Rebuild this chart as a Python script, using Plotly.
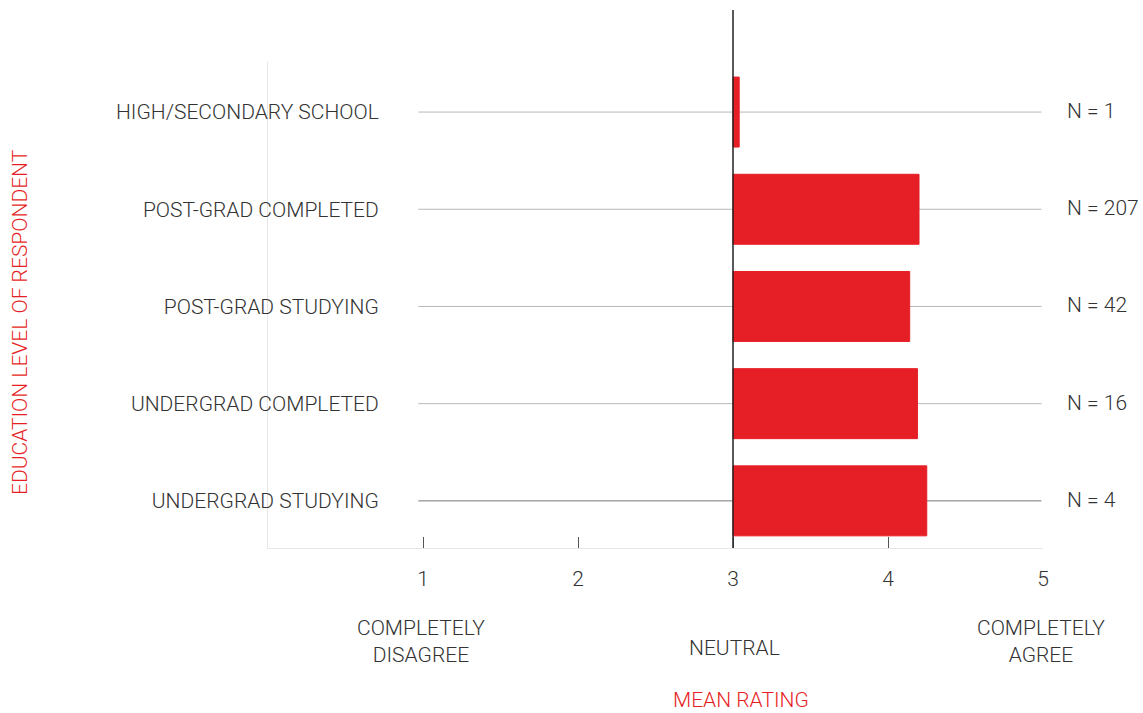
import plotly.graph_objects as go

categories = ["UNDERGRAD STUDYING", "UNDERGRAD COMPLETED", "POST-GRAD STUDYING",
              "POST-GRAD COMPLETED", "HIGH/SECONDARY SCHOOL"]
mean_rating = [4.25, 4.19, 4.14, 4.20, 3.04]
n_counts = [4, 16, 42, 207, 1]
x_ticks = [1, 2, 3, 4, 5]
scale_labels = {1: "COMPLETELY<br>DISAGREE", 3: "NEUTRAL", 5: "COMPLETELY<br>AGREE"}

RED = "#e61f26"
TXT = "#333333"
FAM = "Roboto Light, Roboto"
FONT = dict(family=FAM, size=21, color=TXT, weight=300)
RED_FONT = dict(family=FAM, size=21, color=RED, weight=300)

fig = go.Figure()
fig.add_trace(go.Bar(
    y=categories, x=[v - 3 for v in mean_rating], base=3, orientation="h",
    marker=dict(color=RED, line=dict(color=RED, width=1)), width=0.72,
    hoverinfo="skip", showlegend=False,
))

shapes = []
for i, c in enumerate(categories):
    shapes.append(dict(type="line", xref="x", yref="y", x0=0.97, x1=4.99, y0=c, y1=c,
                       line=dict(color="#777777" if i == 0 else "#b8b8b8", width=1),
                       layer="below"))
shapes.append(dict(type="line", xref="x", yref="paper", x0=3, x1=3, y0=0, y1=1.107,
                   line=dict(color="#222222", width=1.5), layer="above"))

annotations = []
for c, n in zip(categories, n_counts):
    annotations.append(dict(x=5, y=c, xref="x", yref="y", text=f"N = {n}",
                            showarrow=False, xanchor="left", xshift=22, yshift=1, font=FONT))
for xv, t in scale_labels.items():
    yv = -0.206 if "<br>" not in t else -0.193
    annotations.append(dict(x=xv, y=yv, xref="x", yref="paper", text=t, showarrow=False,
                            xanchor="center", yanchor="middle", xshift=-2 if xv != 3 else 1,
                            font=FONT))
annotations.append(dict(x=0.61, y=-0.313, xref="paper", yref="paper", text="MEAN RATING",
                        showarrow=False, xanchor="center", yanchor="middle", font=RED_FONT))
annotations.append(dict(x=-0.32, y=0.465, xref="paper", yref="paper",
                        text="EDUCATION LEVEL OF RESPONDENT", textangle=-90,
                        showarrow=False, xanchor="center", yanchor="middle", font=RED_FONT))

fig.update_layout(
    width=1143, height=713,
    margin=dict(l=268, r=100, t=62, b=165),
    paper_bgcolor="white", plot_bgcolor="white",
    font=FONT,
    shapes=shapes, annotations=annotations,
    xaxis=dict(range=[0, 5], tickvals=x_ticks, showgrid=False, zeroline=False,
               showline=True, linecolor="#e6e6e6", linewidth=1,
               ticks="inside", ticklen=11, tickcolor="#555555", tickwidth=1,
               ticklabelstandoff=12, tickfont=FONT),
    yaxis=dict(categoryorder="array", categoryarray=categories, range=[-0.485, 4.515],
               showgrid=False, zeroline=False, showline=True, linecolor="#e6e6e6",
               linewidth=1, ticks="", ticklabelstandoff=-116, tickfont=FONT),
    bargap=0.28,
)
fig.write_html("out.html", config={"displayModeBar": False},
               post_script="document.body.style.margin='0';document.body.style.overflow='hidden';")
